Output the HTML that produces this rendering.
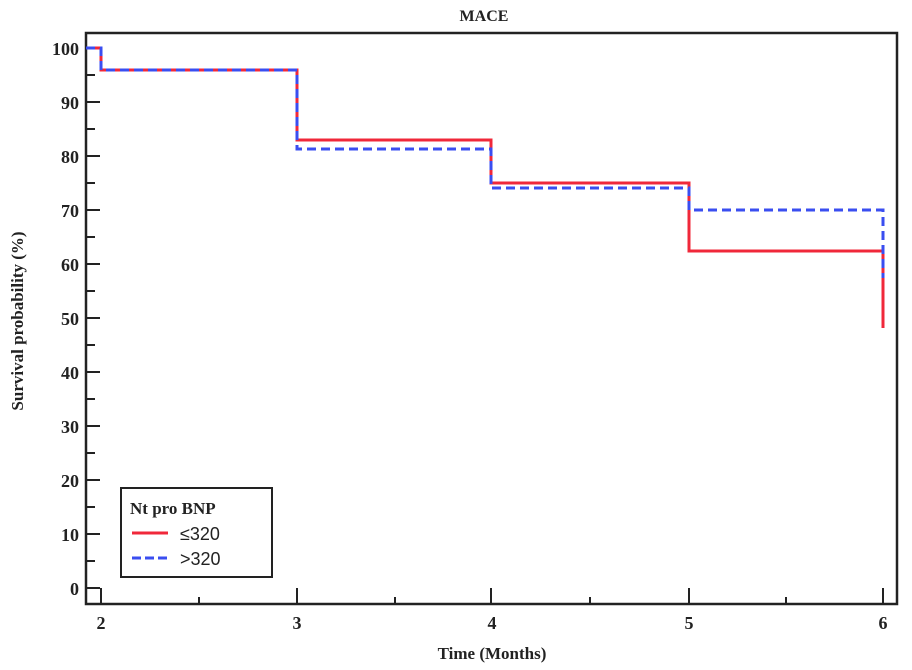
<!DOCTYPE html>
<html><head><style>body{margin:0;background:#fff}svg{display:block}</style></head><body>
<svg width="912" height="670" xmlns="http://www.w3.org/2000/svg" font-family="Liberation Serif, serif" font-weight="bold" fill="#222">
<rect x="0" y="0" width="912" height="670" fill="#fff"/>
<text x="484" y="21" font-size="16" text-anchor="middle">MACE</text>
<path d="M86,33 H897 V604 H86 Z" fill="none" stroke="#222" stroke-width="2.5"/>
<g stroke="#222" stroke-width="2">
<path d="M86,48H100M86,102H100M86,156H100M86,210H100M86,264H100M86,318H100M86,372H100M86,426H100M86,480H100M86,534H100M86,588H100"/>
<path d="M86,75H95M86,129H95M86,183H95M86,237H95M86,291H95M86,345H95M86,399H95M86,453H95M86,507H95M86,561H95"/>
<path d="M101,604V588M297,604V588M491,604V588M689,604V588M883,604V588"/>
<path d="M199,604V597M395,604V597M590,604V597M786,604V597"/>
</g>
<g font-size="18" text-anchor="end">
<text x="79" y="55">100</text><text x="79" y="109">90</text><text x="79" y="163">80</text><text x="79" y="217">70</text><text x="79" y="271">60</text><text x="79" y="325">50</text><text x="79" y="379">40</text><text x="79" y="433">30</text><text x="79" y="487">20</text><text x="79" y="541">10</text><text x="79" y="595">0</text>
</g>
<g font-size="18" text-anchor="middle">
<text x="101" y="629">2</text><text x="297" y="629">3</text><text x="492" y="629">4</text><text x="689" y="629">5</text><text x="883" y="629">6</text>
</g>
<text x="492" y="659" font-size="17" text-anchor="middle">Time (Months)</text>
<text transform="translate(23,321) rotate(-90)" font-size="17" text-anchor="middle">Survival probability (%)</text>
<path d="M86,48H101V70H297V140H491V183H689V251H883V328" fill="none" stroke="#f0283a" stroke-width="3"/>
<path d="M86,48H101V70H297V149H491V188H689V210H883V278" fill="none" stroke="#3a4ef0" stroke-width="3" stroke-dasharray="9,5"/>
<rect x="121" y="488" width="151" height="89" fill="#fff" stroke="#222" stroke-width="2"/>
<text x="130" y="514" font-size="17">Nt pro BNP</text>
<line x1="132" y1="533" x2="168" y2="533" stroke="#f0283a" stroke-width="3"/>
<text x="180" y="540" font-size="18" font-weight="normal" font-family="Liberation Sans, sans-serif">≤320</text>
<line x1="132" y1="558" x2="168" y2="558" stroke="#3a4ef0" stroke-width="3" stroke-dasharray="9,4"/>
<text x="180" y="565" font-size="18" font-weight="normal" font-family="Liberation Sans, sans-serif">&gt;320</text>
</svg>
</body></html>
